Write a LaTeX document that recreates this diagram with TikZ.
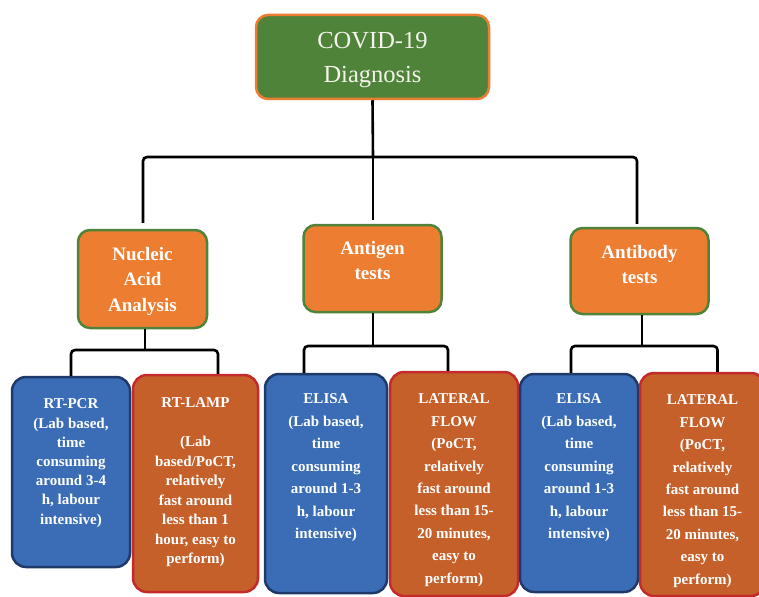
\documentclass[tikz,border=0pt]{standalone}
\usepackage{fontspec}
\setmainfont{Liberation Serif}
\definecolor{cgreen}{HTML}{4E8339}
\definecolor{corange}{HTML}{ED7D31}
\definecolor{cblue}{HTML}{3A6DB6}
\definecolor{cnavy}{HTML}{1F3A68}
\definecolor{cred}{HTML}{C6602A}
\definecolor{credb}{HTML}{C42A2C}
\definecolor{ctext}{HTML}{F4F4EA}
\begin{document}
\begin{tikzpicture}[x=1pt,y=-1pt,
  topbox/.style={draw=corange,fill=cgreen,line width=2.5pt,rounded corners=12pt,
    minimum width=233pt,minimum height=84pt},
  midbox/.style={draw=cgreen,fill=corange,line width=2.5pt,rounded corners=12pt},
  bluebox/.style={draw=cnavy,fill=cblue,line width=2.5pt,rounded corners=14pt},
  redbox/.style={draw=credb,fill=cred,line width=2.5pt,rounded corners=14pt},
  btext/.style={text=white,align=center,anchor=north,inner sep=0pt},
  mtext/.style={btext,font=\bfseries\fontsize{19}{25.5}\selectfont},
  conn/.style={draw=black,line width=2.6pt,rounded corners=4pt}]
\useasboundingbox (0,0) rectangle (759,596);
\clip (0,0) rectangle (759,596);
% top
\node[topbox] (cov) at (372.5,57) {};
\node[btext,text=ctext,font=\fontsize{24.5}{33.5}\selectfont,anchor=center] at ([yshift=-3]cov.center) {COVID-19\\Diagnosis};
% middle
\node[midbox,minimum width=129pt,minimum height=98pt] (nuc) at (142.5,279) {};
\node[mtext] at ([yshift=-18]nuc.north) {Nucleic\\Acid\\Analysis};
\node[midbox,minimum width=138pt,minimum height=87pt] (ag) at (372.5,268.5) {};
\node[mtext] at ([yshift=-17]ag.north) {Antigen\\tests};
\node[midbox,minimum width=138pt,minimum height=86pt] (ab) at (639.5,271) {};
\node[mtext] at ([yshift=-18]ab.north) {Antibody\\tests};
% bottom boxes
\node[bluebox,minimum width=118pt,minimum height=190pt] (pcr) at (71,472) {};
\node[redbox,minimum width=125pt,minimum height=217pt] (lamp) at (195.5,483.5) {};
\node[bluebox,minimum width=122pt,minimum height=219pt] (el1) at (326,483.5) {};
\node[redbox,minimum width=128pt,minimum height=224pt] (lf1) at (454,484) {};
\node[bluebox,minimum width=118pt,minimum height=218pt] (el2) at (579,483) {};
\node[redbox,minimum width=125pt,minimum height=223pt] (lf2) at (702.5,484.5) {};
% texts
\node[btext,font=\bfseries\fontsize{15}{19.2}\selectfont] at ([yshift=-23]pcr.north)
  {RT-PCR\\(Lab based,\\time\\consuming\\around 3-4\\h, labour\\intensive)};
\node[btext,font=\bfseries\fontsize{15}{19.5}\selectfont] at ([yshift=-24]lamp.north)
  {RT-LAMP\\[19.5pt](Lab\\based/PoCT,\\relatively\\fast around\\less than 1\\hour, easy to\\perform)};
\node[btext,font=\bfseries\fontsize{15}{22.5}\selectfont] at ([yshift=-21]el1.north)
  {ELISA\\(Lab based,\\time\\consuming\\around 1-3\\h, labour\\intensive)};
\node[btext,font=\bfseries\fontsize{15}{22.4}\selectfont] at ([yshift=-23]lf1.north)
  {LATERAL\\FLOW\\(PoCT,\\relatively\\fast around\\less than 15-\\20 minutes,\\easy to\\perform)};
\node[btext,font=\bfseries\fontsize{15}{22.5}\selectfont] at ([yshift=-21]el2.north)
  {ELISA\\(Lab based,\\time\\consuming\\around 1-3\\h, labour\\intensive)};
\node[btext,font=\bfseries\fontsize{15}{22.4}\selectfont] at ([yshift=-23]lf2.north)
  {LATERAL\\FLOW\\(PoCT,\\relatively\\fast around\\less than 15-\\20 minutes,\\easy to\\perform)};
% junctions
\coordinate (j0) at (373,157);
\coordinate (j1) at (145,350);
\coordinate (j2) at (373,346);
\coordinate (j3) at (642,346);
% connectors
\draw[conn] (cov.south) -- (j0);
\draw[conn] ([xshift=0.5,yshift=6]nuc.north) |- (j0) -| ([xshift=-2.5,yshift=3]ab.north);
\draw[conn] (j0) -- ([yshift=4]ag.north -| j0);
\draw[conn] (nuc.south -| j1) -- (j1);
\draw[conn] (pcr.north) |- (j1) -| ([xshift=22.5]lamp.north);
\draw[conn] (ag.south -| j2) -- (j2);
\draw[conn] ([xshift=-22]el1.north) |- (j2) -| ([xshift=-6]lf1.north);
\draw[conn] (ab.south -| j3) -- (j3);
\draw[conn] ([xshift=-8]el2.north) |- (j3) -| ([xshift=15]lf2.north);
\end{tikzpicture}
\end{document}
